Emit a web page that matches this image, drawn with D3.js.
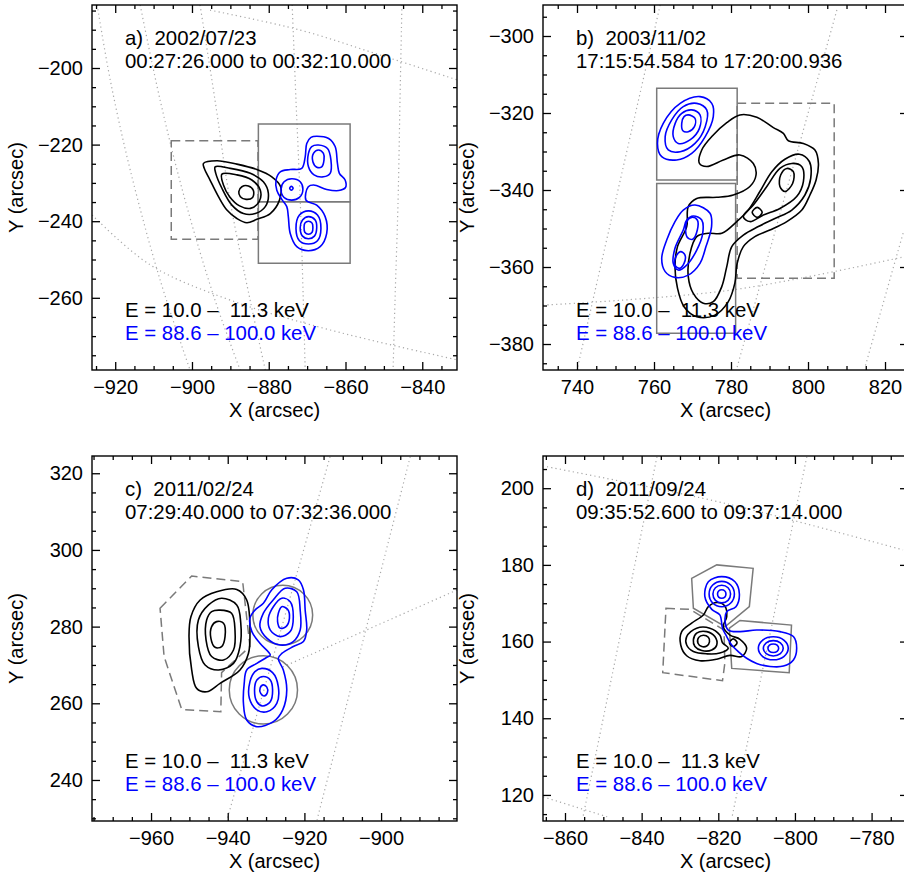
<!DOCTYPE html>
<html><head><meta charset="utf-8">
<script src="https://cdn.jsdelivr.net/npm/d3@7"></script>
<style>
body{margin:0;background:#fff}
text{font-family:"Liberation Sans",Arial,Helvetica,sans-serif}
</style></head>
<body><svg id="chart" width="904" height="879"></svg>
<script>
// ===================== DATA (arcsec) =====================
const legendLow = "E = 10.0 \u2013 \u00a011.3 keV";
const legendHigh = "E = 88.6 \u2013 100.0 keV";
const xLabel = "X (arcsec)", yLabel = "Y (arcsec)";

// ---- panel a ----
const titleA = ["a) \u00a02002/07/23", "00:27:26.000 to 00:32:10.000"];
const xDomA = [-926.05, -830.95], yDomA = [-278.85, -183.55];
const xTicksA = [-920, -900, -880, -860, -840], yTicksA = [-260, -240, -220, -200];
const gridA = [
  [[-924.7,-183.55],[-921.3,-203.1],[-916.1,-226.6],[-908.3,-255.35],[-900.5,-278.85]],
  [[-913.5,-183.55],[-908.3,-208.4],[-901.8,-234.5],[-894.0,-260.6],[-887.45,-278.85]],
  [[-897.9,-183.55],[-894.0,-208.4],[-890.1,-234.5],[-884.85,-260.6],[-880.9,-278.85]],
  [[-873.9,-183.55],[-872.9,-208.4],[-871.8,-234.5],[-871.0,-260.6],[-870.5,-278.85]],
  [[-845.3,-183.55],[-845.8,-208.4],[-846.3,-234.5],[-847.1,-260.6],[-847.6,-278.85]],
  [[-895.3,-184.9],[-871.8,-190.1],[-851.0,-196.6],[-830.9,-203.1]],
  [[-926.0,-238.4],[-910.9,-251.4],[-890.05,-260.6],[-864.0,-268.4],[-830.9,-276.2]]
];
const solidA = [
  [[-882.7,-214.6],[-858.8,-214.6],[-858.8,-234.9],[-882.7,-234.9]],
  [[-882.7,-234.9],[-858.8,-234.9],[-858.8,-251.0],[-882.7,-251.0]]
];
const dashedA = [[[-905.4,-219.0],[-882.8,-219.0],[-882.8,-244.7],[-905.4,-244.7]]];
const lowA = [
  [[-897.0,-224.9],[-893.5,-224.2],[-888.3,-225.1],[-883.1,-226.5],[-879.2,-228.4],[-876.9,-231.0],[-877.2,-234.5],[-879.6,-238.0],[-883.1,-239.5],[-885.7,-240.4],[-888.3,-239.3],[-890.9,-237.1],[-893.1,-233.6],[-895.3,-229.25],[-896.8,-226.2]],
  [[-893.96,-225.8],[-890.05,-226.2],[-884.8,-227.5],[-881.4,-229.7],[-880.1,-232.7],[-880.9,-236.2],[-883.5,-238.0],[-886.6,-238.0],[-889.6,-235.8],[-892.2,-231.4],[-893.8,-227.5]],
  [[-892.2,-227.7],[-888.3,-227.9],[-884.4,-229.25],[-882.2,-231.9],[-882.5,-234.9],[-884.8,-236.65],[-887.6,-236.0],[-890.2,-233.6],[-891.8,-230.55]],
  [[-887.8,-232.3],[-887.0,-231.0],[-885.3,-230.8],[-884.0,-232.0],[-884.2,-233.8],[-885.9,-234.3],[-887.4,-233.6]]
];
const highA = [
  [[-867.5,-217.8],[-864.4,-218.4],[-862.7,-220.5],[-862.1,-224.9],[-861.6,-227.5],[-860.1,-229.25],[-860.0,-231.2],[-861.8,-232.0],[-864.9,-231.7],[-868.3,-230.55],[-869.7,-231.0],[-870.3,-234.5],[-867.5,-235.8],[-865.3,-238.8],[-864.9,-243.2],[-866.6,-246.65],[-869.7,-247.7],[-872.7,-246.65],[-874.4,-243.2],[-874.9,-238.8],[-875.3,-236.2],[-876.6,-234.3],[-877.9,-231.9],[-878.1,-229.25],[-877.0,-227.1],[-874.4,-226.5],[-871.4,-226.2],[-870.5,-223.2],[-870.1,-219.7],[-869.0,-218.1]],
  [[-867.05,-220.1],[-864.7,-221.0],[-863.8,-224.0],[-864.0,-227.5],[-865.75,-228.4],[-868.2,-227.9],[-869.65,-225.8],[-869.65,-222.3],[-868.8,-220.5]],
  [[-867.05,-221.4],[-865.75,-222.3],[-865.6,-224.0],[-866.2,-225.8],[-867.5,-225.9],[-868.5,-224.5],[-868.35,-222.3]],
  [[-874.0,-228.9],[-871.8,-229.7],[-871.1,-231.7],[-872.0,-233.8],[-874.0,-234.5],[-876.0,-233.8],[-876.8,-231.7],[-876.0,-229.7]],
  [[-874.1,-230.9],[-873.65,-231.4],[-874.1,-231.9],[-874.55,-231.4]],
  [[-869.65,-237.3],[-867.3,-238.4],[-866.4,-241.9],[-867.3,-245.1],[-869.65,-245.95],[-872.0,-245.1],[-872.9,-241.9],[-872.0,-238.4]],
  [[-869.65,-238.8],[-867.9,-239.7],[-867.5,-241.7],[-868.1,-243.9],[-869.65,-244.6],[-871.2,-243.9],[-871.8,-241.7],[-871.2,-239.7]],
  [[-869.65,-240.0],[-868.7,-240.5],[-868.5,-241.7],[-868.7,-242.9],[-869.65,-243.4],[-870.6,-242.9],[-870.8,-241.7],[-870.6,-240.5]]
];

// ---- panel b ----
const titleB = ["b) \u00a02003/11/02", "17:15:54.584 to 17:20:00.936"];
const xDomB = [731.17, 825.97], yDomB = [-386.75, -291.95];
const xTicksB = [740, 760, 780, 800, 820], yTicksB = [-380, -360, -340, -320, -300];
const gridB = [
  [[761.6,-291.95],[740.0,-386.75]],
  [[807.5,-293.25],[781.6,-386.0]],
  [[824.7,-351.2],[814.8,-386.0]],
  [[731.2,-369.9],[780.0,-366.0],[824.7,-357.4]]
];
const solidB = [
  [[760.7,-313.6],[781.6,-313.6],[781.6,-337.4],[760.7,-337.4]],
  [[760.7,-338.3],[781.2,-338.3],[781.2,-377.2],[760.7,-377.2]]
];
const dashedB = [[[781.6,-317.5],[806.8,-317.5],[806.8,-362.9],[781.6,-362.9]]];
const lowB = [
  [[782.3,-320.5],[786.7,-321.1],[791.0,-323.8],[793.6,-325.3],[794.9,-327.2],[798.8,-327.9],[801.8,-329.6],[802.7,-333.1],[802.1,-337.4],[800.5,-341.3],[798.4,-345.2],[794.5,-348.2],[790.1,-350.4],[786.2,-352.1],[783.2,-354.7],[781.6,-359.05],[781.0,-364.2],[779.3,-369.0],[775.8,-372.5],[771.1,-372.9],[767.8,-370.3],[766.1,-365.5],[765.45,-359.9],[766.1,-354.7],[768.5,-349.5],[768.9,-344.3],[771.1,-342.2],[776.3,-341.9],[780.6,-341.3],[784.9,-339.1],[786.5,-336.1],[785.8,-333.1],[782.3,-330.9],[778.0,-332.2],[773.7,-333.9],[771.8,-333.1],[772.4,-329.6],[775.4,-325.7],[778.9,-322.5]],
  [[777.6,-351.25],[781.5,-348.2],[784.5,-345.2],[787.5,-340.4],[790.6,-335.25],[794.0,-332.0],[797.75,-330.7],[800.35,-332.6],[800.7,-337.0],[799.2,-341.3],[795.8,-345.2],[791.4,-347.4],[787.1,-349.5],[783.2,-351.7],[780.2,-354.7],[778.9,-359.9],[777.6,-365.1],[775.4,-369.0],[772.8,-369.4],[770.2,-366.85],[768.9,-362.5],[769.35,-356.45],[771.1,-352.1],[774.1,-351.25]],
  [[783.2,-346.9],[785.8,-343.9],[789.3,-339.1],[792.7,-334.4],[795.8,-333.1],[798.35,-333.9],[798.8,-337.8],[797.05,-341.7],[792.7,-344.8],[788.4,-346.5],[784.9,-348.2]],
  [[794.5,-334.4],[796.2,-335.25],[796.0,-338.3],[794.0,-340.4],[792.7,-339.1],[792.9,-336.1]],
  [[786.8,-344.5],[788.1,-345.8],[786.8,-347.1],[785.5,-345.8]]
];
const highB = [
  [[771.95,-315.75],[775.0,-317.5],[775.4,-320.95],[773.3,-326.15],[769.8,-330.5],[765.9,-332.2],[762.0,-331.35],[760.9,-327.9],[762.4,-322.7],[766.8,-317.5]],
  [[771.1,-317.5],[773.7,-319.2],[773.3,-323.55],[770.65,-327.9],[766.8,-330.05],[763.7,-329.6],[762.9,-326.15],[764.6,-321.8],[767.6,-318.35]],
  [[769.8,-319.2],[771.95,-320.5],[771.8,-324.0],[769.35,-327.0],[766.3,-327.9],[765.0,-326.15],[765.5,-322.7],[767.2,-320.1]],
  [[768.9,-320.5],[770.65,-321.4],[770.5,-323.55],[768.9,-324.85],[767.5,-324.6],[767.2,-322.7],[767.8,-320.95]],
  [[770.65,-343.9],[774.55,-346.05],[774.95,-349.5],[773.5,-354.7],[771.95,-359.05],[768.9,-362.1],[765.45,-362.7],[762.9,-361.2],[762.0,-357.75],[763.3,-353.0],[765.45,-348.2],[767.6,-345.2]],
  [[770.2,-346.75],[772.4,-347.8],[772.65,-351.25],[771.1,-355.6],[768.5,-359.5],[766.3,-360.8],[765.0,-359.05],[765.45,-355.15],[767.6,-350.4],[768.5,-347.8]],
  [[769.8,-347.1],[771.25,-347.8],[771.25,-350.4],[770.05,-352.8],[768.65,-352.3],[768.2,-349.95],[768.65,-347.95]],
  [[766.9,-356.0],[768.05,-356.9],[767.8,-359.05],[766.6,-360.35],[765.45,-359.5],[765.7,-357.3]]
];

// ---- panel c ----
const titleC = ["c) \u00a02011/02/24", "07:29:40.000 to 07:32:36.000"];
const xDomC = [-975.4, -880.2], yDomC = [229.3, 324.5];
const xTicksC = [-960, -940, -920, -900], yTicksC = [240, 260, 280, 300, 320];
const gridC = [
  [[-913.3,324.3],[-940.2,229.6]],
  [[-892.4,324.3],[-916.7,229.6]],
  [[-880.2,289.55],[-925.6,269.5]]
];
const circlesC = [[-925.65, 283.0, 7.8], [-930.7, 263.5, 8.9]];
const dashedC = [[[-957.65,284.8],[-949.4,293.2],[-936.1,291.7],[-934.2,274.8],[-941.6,268.0],[-941.8,257.8],[-952.0,258.4],[-956.6,272.2]]];
const lowC = [
  [[-937.65,289.7],[-935.05,286.95],[-934.2,277.4],[-934.6,273.0],[-936.8,268.7],[-942.0,265.2],[-945.5,263.0],[-948.1,263.9],[-949.4,268.7],[-950.1,277.4],[-949.6,282.6],[-947.2,286.95],[-942.9,289.1]],
  [[-941.6,287.4],[-937.65,285.65],[-936.6,280.9],[-936.8,274.8],[-938.5,270.4],[-942.4,268.7],[-945.9,270.0],[-947.65,274.8],[-947.65,281.7],[-945.0,285.65]],
  [[-942.0,284.3],[-939.0,283.5],[-938.1,279.0],[-938.5,273.9],[-941.1,271.3],[-944.2,272.2],[-945.65,276.5],[-945.5,281.7],[-944.2,283.9]],
  [[-942.9,281.3],[-941.1,280.9],[-940.7,277.4],[-941.6,274.8],[-943.3,274.6],[-944.4,277.0],[-944.2,280.0]]
];
const highC = [
  [[-928.9,272.6],[-931.6,275.65],[-933.7,278.7],[-934.2,282.2],[-932.9,284.3],[-930.7,286.1],[-928.5,289.6],[-924.6,292.6],[-921.6,292.2],[-920.25,289.6],[-919.8,284.3],[-919.4,279.1],[-920.25,276.1],[-922.9,274.8],[-925.9,273.0],[-926.8,271.7],[-925.5,268.7],[-924.6,263.5],[-925.65,258.3],[-928.1,255.2],[-932.4,253.9],[-935.05,255.65],[-935.9,260.0],[-935.7,265.2],[-935.05,268.7],[-932.4,270.4],[-929.8,272.0]],
  [[-925.0,290.0],[-922.0,289.1],[-921.1,284.3],[-921.1,279.1],[-922.9,276.1],[-926.35,275.2],[-929.8,277.0],[-931.6,280.0],[-930.7,283.5],[-928.1,287.0]],
  [[-925.9,287.4],[-923.7,286.5],[-922.9,282.6],[-923.7,278.7],[-926.35,277.4],[-928.9,279.1],[-929.4,282.2],[-928.1,285.2]],
  [[-925.9,285.2],[-924.4,284.5],[-923.9,282.2],[-924.8,280.0],[-926.35,279.6],[-927.0,281.3],[-926.8,283.5]],
  [[-931.1,269.1],[-928.3,268.0],[-926.8,264.3],[-927.2,260.0],[-929.8,257.8],[-932.4,258.3],[-934.35,261.3],[-934.2,265.65],[-932.9,268.25]],
  [[-930.7,267.0],[-928.9,266.1],[-928.3,263.5],[-928.9,260.4],[-930.9,259.3],[-932.4,260.4],[-933.0,263.5],[-932.4,266.1]],
  [[-930.7,264.8],[-929.8,264.2],[-929.65,262.8],[-930.5,261.9],[-931.4,262.6],[-931.55,264.0]]
];

// ---- panel d ----
const titleD = ["d) \u00a02011/09/24", "09:35:52.600 to 09:37:14.000"];
const xDomD = [-865.74, -770.5], yDomD = [113.2, 208.4];
const xTicksD = [-860, -840, -820, -800, -780], yTicksD = [120, 140, 160, 180, 200];
const gridD = [
  [[-836.0,208.2],[-855.3,114.3]],
  [[-796.9,208.2],[-816.4,114.3]],
  [[-864.7,205.6],[-818.0,196.0],[-771.8,183.9]],
  [[-865.7,119.5],[-849.0,114.3]]
];
const solidD = [
  [[-826.95,176.5],[-820.4,180.0],[-810.9,179.1],[-811.9,169.1],[-818.2,163.9],[-826.5,168.7]],
  [[-817.1,163.5],[-814.35,165.5],[-800.9,164.3],[-801.5,151.9],[-816.5,153.0]]
];
const dashedD = [[[-833.65,168.7],[-827.4,168.4],[-818.5,163.0],[-818.3,154.3],[-818.9,149.8],[-834.5,151.9]]];
const lowD = [
  [[-829.55,162.6],[-826.95,164.8],[-823.9,166.95],[-822.6,169.1],[-820.4,170.2],[-818.3,169.3],[-817.8,166.5],[-818.7,163.9],[-816.95,161.7],[-814.35,160.6],[-812.6,158.3],[-813.9,156.1],[-816.95,156.4],[-820.4,155.4],[-824.8,155.0],[-828.25,156.3],[-829.8,159.1]],
  [[-828.25,161.3],[-825.65,163.5],[-822.2,163.5],[-819.6,161.7],[-818.9,159.7],[-817.4,158.3],[-819.6,157.0],[-823.0,156.8],[-826.5,157.4],[-828.25,159.1]],
  [[-825.65,162.2],[-823.0,162.6],[-820.9,161.3],[-820.4,159.1],[-821.7,157.8],[-824.3,157.65],[-826.1,158.7],[-826.5,160.4]],
  [[-823.9,161.65],[-822.6,161.1],[-822.3,159.9],[-823.0,158.85],[-824.3,158.7],[-825.3,159.55],[-825.1,161.1]],
  [[-816.1,160.7],[-815.1,159.7],[-816.1,158.7],[-817.1,159.7]]
];
const highD = [
  [[-822.6,175.6],[-819.1,176.95],[-815.65,175.6],[-814.5,172.4],[-815.4,169.1],[-817.8,167.8],[-818.25,165.65],[-817.4,163.0],[-814.35,162.6],[-810.0,163.0],[-803.9,162.6],[-800.4,161.3],[-799.55,158.25],[-800.4,155.2],[-803.0,153.6],[-806.5,153.5],[-810.0,154.3],[-812.6,155.65],[-814.8,157.4],[-816.5,159.1],[-817.8,161.3],[-818.9,163.5],[-819.6,166.95],[-821.7,168.4],[-823.5,171.7]],
  [[-815.8,172.4],[-816.75,174.75],[-819.1,175.7],[-821.45,174.75],[-822.4,172.4],[-821.45,170.05],[-819.1,169.1],[-816.75,170.05]],
  [[-816.8,172.4],[-817.45,174.05],[-819.1,174.7],[-820.75,174.05],[-821.4,172.4],[-820.75,170.75],[-819.1,170.1],[-817.45,170.75]],
  [[-818.0,172.4],[-818.3,173.2],[-819.1,173.5],[-819.9,173.2],[-820.2,172.4],[-819.9,171.6],[-819.1,171.3],[-818.3,171.6]],
  [[-801.75,158.25],[-802.9,160.4],[-805.65,161.25],[-808.4,160.4],[-809.55,158.25],[-808.4,156.1],[-805.65,155.25],[-802.9,156.1]],
  [[-803.05,158.25],[-803.8,159.65],[-805.65,160.25],[-807.5,159.65],[-808.25,158.25],[-807.5,156.85],[-805.65,156.25],[-803.8,156.85]],
  [[-804.25,158.25],[-804.65,159.05],[-805.65,159.35],[-806.65,159.05],[-807.05,158.25],[-806.65,157.45],[-805.65,157.15],[-804.65,157.45]]
];

// ===================== LAYOUT / STYLE =====================
const SIZE = 365;
const panels = [
  {left: 92, top: 5,   title: titleA, xd: xDomA, yd: yDomA, xt: xTicksA, yt: yTicksA, grid: gridA, solid: solidA, dashed: dashedA, circles: [], low: lowA, high: highA},
  {left: 543, top: 5,  title: titleB, xd: xDomB, yd: yDomB, xt: xTicksB, yt: yTicksB, grid: gridB, solid: solidB, dashed: dashedB, circles: [], low: lowB, high: highB},
  {left: 92, top: 456, title: titleC, xd: xDomC, yd: yDomC, xt: xTicksC, yt: yTicksC, grid: gridC, solid: [], dashed: dashedC, circles: circlesC, low: lowC, high: highC},
  {left: 543, top: 456,title: titleD, xd: xDomD, yd: yDomD, xt: xTicksD, yt: yTicksD, grid: gridD, solid: solidD, dashed: dashedD, circles: [], low: lowD, high: highD}
];
const FONT = 20, TFONT = 20.4;
const svg = d3.select("#chart");
svg.append("rect").attr("width", 904).attr("height", 879).attr("fill", "#fff");

panels.forEach((p, i) => {
  const x = d3.scaleLinear().domain(p.xd).range([0, SIZE]);
  const y = d3.scaleLinear().domain(p.yd).range([SIZE, 0]);
  const g = svg.append("g").attr("transform", `translate(${p.left},${p.top})`);
  const cid = "clip" + i;
  g.append("clipPath").attr("id", cid).append("rect").attr("width", SIZE).attr("height", SIZE);
  const plot = g.append("g").attr("clip-path", `url(#${cid})`);

  const open = d3.line().x(d => x(d[0])).y(d => y(d[1])).curve(d3.curveCatmullRom.alpha(0.5));
  const poly = d3.line().x(d => x(d[0])).y(d => y(d[1])).curve(d3.curveLinearClosed);
  const smooth = d3.line().x(d => x(d[0])).y(d => y(d[1])).curve(d3.curveCatmullRomClosed.alpha(0.5));

  plot.selectAll(".grid").data(p.grid).join("path").attr("d", open)
    .attr("fill", "none").attr("stroke", "#a8a8a8").attr("stroke-width", 1.2).attr("stroke-dasharray", "1.2,3.2");
  plot.selectAll(".solid").data(p.solid).join("path").attr("d", poly)
    .attr("fill", "none").attr("stroke", "#7a7a7a").attr("stroke-width", 1.5);
  plot.selectAll(".circ").data(p.circles).join("circle")
    .attr("cx", d => x(d[0])).attr("cy", d => y(d[1])).attr("r", d => x(d[0] + d[2]) - x(d[0]))
    .attr("fill", "none").attr("stroke", "#7a7a7a").attr("stroke-width", 1.5);
  plot.selectAll(".dash").data(p.dashed).join("path").attr("d", poly)
    .attr("fill", "none").attr("stroke", "#7a7a7a").attr("stroke-width", 1.5).attr("stroke-dasharray", "9,5");
  plot.selectAll(".low").data(p.low).join("path").attr("d", smooth)
    .attr("fill", "none").attr("stroke", "#000").attr("stroke-width", 1.6);
  plot.selectAll(".high").data(p.high).join("path").attr("d", smooth)
    .attr("fill", "none").attr("stroke", "#0000ff").attr("stroke-width", 1.6);

  // texts: title and legend lines (spaced so their boxes do not collide)
  const tg = g.append("g").attr("font-size", TFONT);
  tg.append("text").attr("x", 33).attr("y", 40).text(p.title[0]);
  tg.append("text").attr("x", 33).attr("y", 63).text(p.title[1]);
  tg.append("text").attr("x", 33).attr("y", 311.5).text(legendLow);
  tg.append("text").attr("x", 33).attr("y", 334.5).attr("fill", "#0000ff").text(legendHigh);

  // frame
  g.append("rect").attr("width", SIZE).attr("height", SIZE).attr("fill", "none").attr("stroke", "#000").attr("stroke-width", 1.4);

  // axes
  const minorX = d3.range(Math.ceil(p.xd[0] / 5) * 5, p.xd[1], 5).filter(v => v % 20 !== 0);
  const minorY = d3.range(Math.ceil(p.yd[0] / 5) * 5, p.yd[1], 5).filter(v => v % 20 !== 0);
  const style = sel => { sel.select(".domain").remove(); sel.attr("font-size", FONT).attr("font-family", null);
    sel.selectAll("line").attr("stroke", "#000").attr("stroke-width", 1.3); sel.selectAll("text").attr("fill", "#000"); };
  const fmt = d3.format("d");
  g.append("g").attr("transform", `translate(0,${SIZE})`).call(d3.axisBottom(x).tickValues(p.xt).tickSize(-8).tickSizeOuter(0).tickPadding(10).tickFormat(fmt)).call(style);
  g.append("g").attr("transform", `translate(0,${SIZE})`).call(d3.axisBottom(x).tickValues(minorX).tickSize(-4).tickSizeOuter(0).tickFormat("")).call(style);
  g.append("g").call(d3.axisTop(x).tickValues(p.xt).tickSize(-8).tickSizeOuter(0).tickFormat("")).call(style);
  g.append("g").call(d3.axisTop(x).tickValues(minorX).tickSize(-4).tickSizeOuter(0).tickFormat("")).call(style);
  g.append("g").call(d3.axisLeft(y).tickValues(p.yt).tickSize(-8).tickSizeOuter(0).tickPadding(9).tickFormat(fmt)).call(style);
  g.append("g").call(d3.axisLeft(y).tickValues(minorY).tickSize(-4).tickSizeOuter(0).tickFormat("")).call(style);
  g.append("g").attr("transform", `translate(${SIZE},0)`).call(d3.axisRight(y).tickValues(p.yt).tickSize(-8).tickSizeOuter(0).tickFormat("")).call(style);
  g.append("g").attr("transform", `translate(${SIZE},0)`).call(d3.axisRight(y).tickValues(minorY).tickSize(-4).tickSizeOuter(0).tickFormat("")).call(style);

  // axis titles
  g.append("text").attr("x", SIZE / 2).attr("y", SIZE + 47).attr("text-anchor", "middle").attr("font-size", FONT).text(xLabel);
  g.append("text").attr("transform", `translate(${-69},${SIZE / 2}) rotate(-90)`).attr("text-anchor", "middle").attr("font-size", FONT).text(yLabel);
});
</script></body></html>
